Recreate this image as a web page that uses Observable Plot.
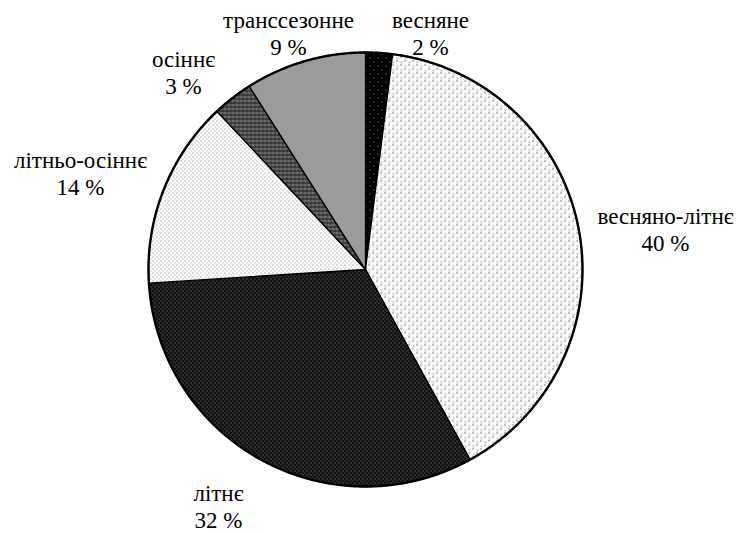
<!DOCTYPE html>
<html>
<head>
<meta charset="utf-8">
<script src="https://cdn.jsdelivr.net/npm/d3@7"></script>
<script src="https://cdn.jsdelivr.net/npm/@observablehq/plot@0.6"></script>
<style>
  html, body { margin: 0; padding: 0; background: #fff; font-family: "Liberation Serif", serif; }
  #chart svg { display: block; }
</style>
</head>
<body>
<svg width="0" height="0" style="position:absolute">
  <defs>
    <pattern id="p1" width="8" height="8" patternUnits="userSpaceOnUse">
      <rect width="8" height="8" fill="#000"/>
      <rect x="1" y="1" width="1" height="1" fill="#999"/>
      <rect x="5" y="5" width="1" height="1" fill="#999"/>
    </pattern>
    <pattern id="p2" width="8" height="8" patternUnits="userSpaceOnUse">
      <rect width="8" height="8" fill="#fff"/>
      <rect x="0" y="0" width="1" height="1" fill="#000"/>
      <rect x="4" y="4" width="1" height="1" fill="#000"/>
      <rect x="4" y="1" width="2" height="2" fill="#c8c8c8"/>
      <rect x="0" y="5" width="2" height="2" fill="#c8c8c8"/>
    </pattern>
    <pattern id="p3" width="4" height="4" patternUnits="userSpaceOnUse">
      <rect width="4" height="4" fill="#111"/>
      <rect x="0" y="0" width="1" height="1" fill="#666"/>
      <rect x="2" y="2" width="1" height="1" fill="#888"/>
    </pattern>
    <pattern id="p4" width="4" height="4" patternUnits="userSpaceOnUse">
      <rect width="4" height="4" fill="#fff"/>
      <rect x="0" y="0" width="1" height="1" fill="#777"/>
      <rect x="2" y="2" width="1" height="1" fill="#999"/>
    </pattern>
    <pattern id="p5" width="4" height="4" patternUnits="userSpaceOnUse">
      <rect width="4" height="4" fill="#444"/>
      <rect x="0" y="0" width="1" height="1" fill="#ddd"/>
      <rect x="2" y="2" width="1" height="1" fill="#111"/>
      <rect x="2" y="0" width="1" height="1" fill="#888"/>
    </pattern>
    <pattern id="p6" width="2" height="2" patternUnits="userSpaceOnUse">
      <rect width="2" height="2" fill="#dcdcdc"/>
      <rect x="0" y="0" width="1" height="1" fill="#5a5a5a"/>
      <rect x="1" y="1" width="1" height="1" fill="#5a5a5a"/>
    </pattern>
  </defs>
</svg>
<div id="chart"></div>
<script>
// Data (clockwise from 12 o'clock)
const categories = ["весняне", "весняно-літнє", "літнє", "літньо-осіннє", "осіннє", "транссезонне"];
const values = [2, 40, 32, 14, 3, 9];

// Styling / layout (separate from data)
const patterns = ["url(#p1)", "url(#p2)", "url(#p3)", "url(#p4)", "url(#p5)", "url(#p6)"];
const W = 736, H = 533, CX = 365, CY = 269, R = 217;
// label block centers in pixels
const labelPos = [[430, 32], [665, 228], [218, 505], [80, 172], [183, 71], [288, 32]];

const total = d3.sum(values);
let cum = 0;
const slices = categories.map((c, i) => {
  const a0 = cum / total * 2 * Math.PI;
  cum += values[i];
  const a1 = cum / total * 2 * Math.PI;
  const pts = [{x: 0, y: 0}];
  const n = Math.max(2, Math.ceil((a1 - a0) / (Math.PI / 360)));
  for (let k = 0; k <= n; k++) {
    const a = a0 + (a1 - a0) * k / n;
    pts.push({x: Math.sin(a), y: Math.cos(a)});
  }
  pts.push({x: 0, y: 0});
  return {c, pts};
});
const circle = d3.range(0, 721).map(k => {
  const a = k / 720 * 2 * Math.PI;
  return {x: Math.sin(a), y: Math.cos(a)};
});
const labels = categories.map((c, i) => ({
  text: `${c}\n${values[i]} %`,
  x: (labelPos[i][0] - CX) / R,
  y: (CY - labelPos[i][1]) / R
}));

const plot = Plot.plot({
  width: W, height: H,
  margin: 0,
  x: {domain: [-CX / R, (W - CX) / R], range: [0, W], axis: null},
  y: {domain: [-(H - CY) / R, CY / R], range: [H, 0], axis: null},
  marks: [
    ...slices.map((s, i) => Plot.line(s.pts, {
      x: "x", y: "y", fill: patterns[i], stroke: "#000", strokeWidth: 1.3,
      strokeLinejoin: "miter"
    })),
    Plot.line(circle, {x: "x", y: "y", stroke: "#000", strokeWidth: 2.4}),
    Plot.text(labels, {
      x: "x", y: "y", text: "text", textAnchor: "middle", lineAnchor: "middle",
      lineHeight: 1.2, fontSize: 23, fill: "#000", fontFamily: "Liberation Serif"
    })
  ]
});
document.getElementById("chart").appendChild(plot);
</script>
</body>
</html>
